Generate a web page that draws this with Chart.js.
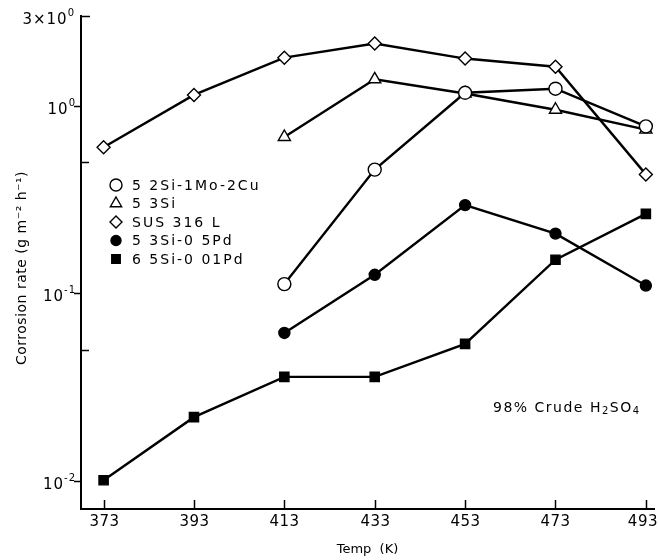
<!DOCTYPE html>
<html>
<head>
<meta charset="utf-8">
<script src="https://cdn.jsdelivr.net/npm/chart.js@4"></script>
<style>
  html, body { margin: 0; padding: 0; background: #fff; }
  #wrap { width: 658px; height: 560px; }
</style>
</head>
<body>
<div id="wrap"><canvas id="corrChart" width="658" height="560"></canvas></div>
<script>
// temperatures (K)
const temps = [373, 393, 413, 433, 453, 473, 493];

// corrosion rate, g m-2 h-1 (null = not measured)
const cuRate     = [null, null, 0.112, 0.456, 1.17, 1.23, 0.775];   // 5 2Si-1Mo-2Cu
const si53Rate   = [null, null, 0.68, 1.38, 1.16, 0.95, 0.745];     // 5 3Si
const sus316Rate = [0.60, 1.14, 1.80, 2.14, 1.78, 1.61, 0.43];      // SUS 316 L
const pd05Rate   = [null, null, 0.0615, 0.1255, 0.295, 0.208, 0.110]; // 5 3Si-0 5Pd
const pd001Rate  = [0.0101, 0.0219, 0.0359, 0.0359, 0.0538, 0.151, 0.265]; // 6 5Si-0 01Pd

const seriesNames = ["5 2Si-1Mo-2Cu", "5 3Si", "SUS 316 L", "5 3Si-0 5Pd", "6 5Si-0 01Pd"];

const yTicks = [0.01, 0.1, 1, 3];
const yTickBase = ["10", "10", "10", "3\u00D710"];
const yTickExp = ["-2", "-1", "0", "0"];
const yMinorTicks = [0.05, 0.5];

const FONT = "'DejaVu Sans', sans-serif";

function toPoints(vals) {
    return temps.map((t, i) => ({ x: t, y: vals[i] })).filter(p => p.y !== null);
}

function makeSet(label, vals, style, radius, fill) {
    return {
        label,
        data: toPoints(vals),
        borderColor: "#000",
        borderWidth: 2.4,
        pointStyle: style,
        pointRadius: radius,
        pointHoverRadius: radius,
        pointBackgroundColor: fill,
        pointBorderColor: "#000",
        pointBorderWidth: 1.4,
        fill: false,
        tension: 0
    };
}

const datasets = [
    makeSet(seriesNames[0], cuRate, "circle", 6.5, "#fff"),
    makeSet(seriesNames[1], si53Rate, "triangle", 7, "#fff"),
    makeSet(seriesNames[2], sus316Rate, "rectRot", 6.5, "#fff"),
    makeSet(seriesNames[3], pd05Rate, "circle", 5.5, "#000"),
    makeSet(seriesNames[4], pd001Rate, "rect", 6.5, "#000")
];

// tick marks and tick labels: x inward, y major outward, minor inward
const tickMarks = {
    id: "tickMarks",
    afterDatasetsDraw(chart) {
        const ctx = chart.ctx;
        const xs = chart.scales.x, ys = chart.scales.y;
        const area = chart.chartArea;
        ctx.save();
        ctx.strokeStyle = "#000";
        ctx.fillStyle = "#000";
        ctx.lineWidth = 1.5;
        temps.forEach(t => {
            const px = Math.round(xs.getPixelForValue(t)) + 0.5;
            ctx.beginPath();
            ctx.moveTo(px, area.bottom);
            ctx.lineTo(px, area.bottom - 9);
            ctx.stroke();

            ctx.font = "15px " + FONT;
            ctx.letterSpacing = "0.5px";
            ctx.textAlign = "center";
            ctx.textBaseline = "middle";
            const half = ctx.measureText(String(t)).width / 2;
            ctx.fillText(String(t), Math.min(px, chart.width - half), area.bottom + 13);
        });
        yTicks.forEach((v, i) => {
            const py = Math.round(ys.getPixelForValue(v)) + 0.5;
            ctx.beginPath();
            if (v === 3) {
                ctx.moveTo(area.left, py);
                ctx.lineTo(area.left + 9, py);
            } else {
                ctx.moveTo(area.left - 7, py);
                ctx.lineTo(area.left, py);
            }
            ctx.stroke();

            // label: base plus raised exponent, right aligned
            ctx.textBaseline = "alphabetic";
            ctx.textAlign = "left";
            ctx.letterSpacing = "1px";
            ctx.font = "10px " + FONT;
            const ew = ctx.measureText(yTickExp[i]).width;
            ctx.font = "15px " + FONT;
            const bw = ctx.measureText(yTickBase[i]).width;
            const right = v === 3 ? 75 : 76;
            const x0 = right - ew - bw;
            ctx.fillText(yTickBase[i], x0, py + 7);
            ctx.font = "10px " + FONT;
            ctx.fillText(yTickExp[i], x0 + bw, py - 1);
        });
        ctx.letterSpacing = "0px";
        yMinorTicks.forEach(v => {
            const py = Math.round(ys.getPixelForValue(v)) + 0.5;
            ctx.beginPath();
            ctx.moveTo(area.left, py);
            ctx.lineTo(area.left + 8, py);
            ctx.stroke();
        });
        ctx.restore();
    }
};

// legend, note and y title drawn by hand
const insideText = {
    id: "insideText",
    afterDraw(chart) {
        const ctx = chart.ctx;
        ctx.save();
        ctx.fillStyle = "#000";
        ctx.textBaseline = "middle";
        chart.data.datasets.forEach((ds, i) => {
            const y = 185 + i * 18.5;
            ctx.strokeStyle = "#000";
            ctx.lineWidth = 1.4;
            ctx.fillStyle = ds.pointBackgroundColor;
            Chart.helpers.drawPoint(ctx, {
                pointStyle: ds.pointStyle,
                radius: ds.pointRadius - 0.5,
                borderWidth: 1.4,
                rotation: 0
            }, 116, y);
            ctx.fillStyle = "#000";
            ctx.font = "14px " + FONT;
            ctx.letterSpacing = "2px";
            ctx.fillText(ds.label, 132, y + 1);
        });

        // 98% Crude H2SO4 with subscripts
        let x = 493;
        const y = 408;
        ctx.letterSpacing = "1.5px";
        const parts = [["98% Crude H", 14, 0], ["2", 10, 3], ["SO", 14, 0], ["4", 10, 3]];
        parts.forEach(([txt, size, dy]) => {
            ctx.font = size + "px " + FONT;
            ctx.fillText(txt, x, y + dy);
            x += ctx.measureText(txt).width;
        });

        // y axis title
        ctx.letterSpacing = "0.5px";
        ctx.translate(22, 268);
        ctx.rotate(-Math.PI / 2);
        ctx.textAlign = "center";
        ctx.font = "14px " + FONT;
        ctx.fillText("Corrosion rate (g m\u207B\u00B2 h\u207B\u00B9)", 0, 0);
        ctx.restore();
    }
};

new Chart(document.getElementById("corrChart"), {
    type: "line",
    data: { datasets },
    options: {
        responsive: false,
        animation: false,
        layout: {
            autoPadding: false,
            padding: { top: 16, right: 4, left: 0, bottom: 0 }
        },
        plugins: {
            legend: { display: false },
            tooltip: { enabled: false }
        },
        scales: {
            x: {
                type: "linear",
                min: 368,
                max: 494.8,
                afterBuildTicks: scale => {
                    scale.ticks = temps.map(v => ({ value: v }));
                },
                afterFit: scale => { scale.height = 51; },
                ticks: { display: false },
                grid: { display: false, drawTicks: false },
                border: { color: "#000", width: 2 },
                title: {
                    display: true,
                    text: "Temp  (K)",
                    color: "#000",
                    font: { family: FONT, size: 13 },
                    padding: { top: 0, bottom: 3 }
                }
            },
            y: {
                type: "logarithmic",
                min: 0.0071,
                max: 3,
                afterBuildTicks: scale => {
                    scale.ticks = yTicks.map(v => ({ value: v }));
                },
                afterFit: scale => { scale.width = 81; },
                ticks: { display: false },
                grid: { display: false, drawTicks: false },
                border: { color: "#000", width: 2 }
            }
        }
    },
    plugins: [tickMarks, insideText]
});
</script>
</body>
</html>
